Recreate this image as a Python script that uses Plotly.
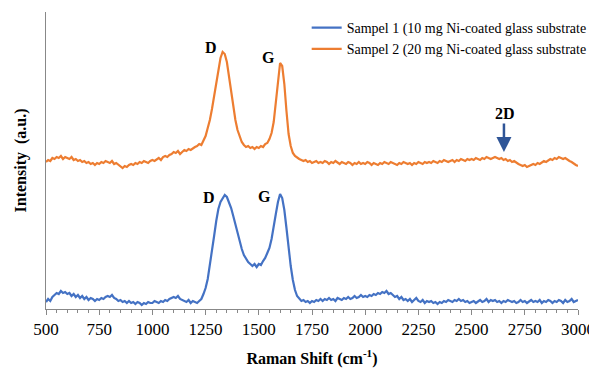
import plotly.graph_objects as go

raman_shift = list(range(500, 3001, 10))

sample1 = [
    4, 7, 5, 9, 11, 13, 12, 15, 13, 14,
    12, 13, 10, 12, 9, 11, 8, 10, 7, 9,
    6, 8, 7, 5, 7, 6, 8, 7, 9, 10,
    9, 11, 8, 7, 5, 6, 4, 5, 3, 5,
    3, 4, 2, 4, 3, 1, 3, 2, 4, 3,
    3, 5, 4, 3, 5, 4, 6, 5, 7, 8,
    9, 8, 10, 7, 6, 5, 4, 6, 3, 5,
    4, 3, 5, 7, 12, 18, 27, 40, 55, 70,
    85, 97, 104, 108, 111, 109, 104, 98, 90, 82,
    73, 64, 57, 51, 47, 44, 42, 40, 42, 39,
    42, 41, 45, 48, 53, 58, 67, 78, 92, 104,
    112, 108, 96, 78, 58, 40, 26, 16, 10, 7,
    5, 6, 4, 5, 3, 5, 4, 6, 5, 7,
    5, 7, 6, 8, 6, 7, 5, 8, 7, 6,
    8, 7, 9, 7, 8, 10, 8, 9, 11, 9,
    10, 9, 11, 10, 12, 11, 13, 12, 14, 13,
    15, 12, 13, 11, 9, 10, 7, 9, 6, 7,
    5, 7, 4, 6, 8, 5, 4, 6, 3, 5,
    4, 5, 3, 4, 2, 4, 3, 5, 4, 6,
    5, 4, 6, 5, 7, 5, 6, 4, 5, 3,
    4, 5, 3, 5, 6, 4, 5, 7, 4, 6,
    5, 6, 4, 5, 3, 5, 4, 6, 5, 4,
    5, 3, 4, 6, 4, 5, 3, 5, 6, 4,
    5, 4, 6, 3, 5, 4, 6, 5, 3, 5,
    4, 6, 5, 3, 6, 4, 5, 7, 4, 5,
    6,
]

sample2 = [
    144, 146, 145, 148, 147, 149, 148, 150, 147, 149,
    148, 147, 149, 146, 147, 145, 146, 144, 145, 143,
    144, 142, 143, 141, 143, 142, 144, 143, 145, 144,
    143, 145, 142, 143, 141, 139, 138, 140, 139, 141,
    142, 141, 143, 142, 144, 143, 145, 144, 143, 145,
    146, 145, 147, 148, 146, 149, 150, 149, 151, 152,
    154, 153, 155, 152, 154, 156, 155, 157, 156, 158,
    159, 160, 162, 161, 165, 170, 178, 186, 197, 210,
    224, 238, 248, 254, 252, 244, 230, 214, 199, 186,
    176, 169, 164, 161, 159, 160, 158, 159, 157, 159,
    158, 160, 159, 162, 163, 167, 173, 184, 204, 228,
    243, 240, 222, 195, 172, 160, 153, 150, 148, 147,
    146, 145, 146, 144, 145, 143, 144, 145, 143, 144,
    143, 145, 144, 142, 144, 143, 145, 143, 142, 144,
    143, 142, 144, 143, 141, 143, 142, 144, 142, 143,
    142, 144, 143, 141, 143, 142, 141, 143, 142, 144,
    143, 142, 144, 143, 142, 141, 143, 142, 144, 143,
    142, 143, 141, 143, 142, 144, 143, 142, 144, 143,
    144, 143, 145, 144, 143, 145, 144, 146, 145, 144,
    145, 146, 144, 146, 145, 147, 146, 145, 147, 146,
    147, 146, 148, 147, 146, 148, 147, 149, 148, 147,
    148, 149, 148, 147, 148, 146, 147, 145, 146, 144,
    145, 143, 142, 141, 140, 141, 139, 140, 141, 142,
    141, 143, 142, 144, 145, 144, 146, 147, 146, 148,
    147, 149, 148, 147, 148, 146, 145, 144, 142, 141,
    140,
]

# legend text as visible in the reference (cut at the picture's right edge)
series_names = [
    "Sampel 1 (10 mg Ni-coated glass substrate",
    "Sampel 2 (20 mg Ni-coated glass substrate",
]
x_ticks = [500, 750, 1000, 1250, 1500, 1750, 2000, 2250, 2500, 2750, 3000]

SERIF = "Liberation Serif, Times New Roman, serif"

fig = go.Figure()
fig.add_trace(go.Scatter(x=raman_shift, y=sample1, mode="lines", name=series_names[0],
                         line=dict(color="#4472C4", width=2.2)))
fig.add_trace(go.Scatter(x=raman_shift, y=sample2, mode="lines", name=series_names[1],
                         line=dict(color="#ED7D31", width=2.2)))

lab = dict(family=SERIF, size=16, color="black")
for txt, x, y in [("<b>D</b>", 1277, 259), ("<b>G</b>", 1546, 249),
                  ("<b>D</b>", 1268, 109), ("<b>G</b>", 1527, 110),
                  ("<b>2D</b>", 2655, 193)]:
    fig.add_annotation(x=x, y=y, text=txt, showarrow=False, font=lab)

fig.add_annotation(x=2652, y=154, ax=2652, ay=184, axref="x", ayref="y",
                   text="", showarrow=True, arrowhead=2, arrowsize=1.2,
                   arrowwidth=2.5, arrowcolor="#2F5597")

# the page body adds an 8 px margin, so the figure is 8 px smaller than the window
fig.update_layout(
    width=589, height=362,
    margin=dict(l=38, r=19, t=4, b=61, autoexpand=False),
    paper_bgcolor="white", plot_bgcolor="white",
    font=dict(family=SERIF, size=14, color="black"),
    showlegend=True,
    legend=dict(x=0.49, y=1.0, xanchor="left", yanchor="top",
                bgcolor="rgba(0,0,0,0)", font=dict(family=SERIF, size=14, color="black"),
                tracegroupgap=0, itemwidth=30),
    xaxis=dict(range=[500, 3000], tickvals=x_ticks, ticks="outside", ticklen=5,
               tickcolor="#888", showline=True, linecolor="#888", linewidth=1,
               showgrid=False, zeroline=False, automargin=False,
               minor=dict(dtick=50, ticks="outside", ticklen=3, tickcolor="#888", showgrid=False),
               tickfont=dict(family=SERIF, size=17, color="black"),
               title=dict(text="<b>Raman Shift (cm<sup>-1</sup>)</b>", standoff=14,
                          font=dict(family=SERIF, size=16, color="black"))),
    yaxis=dict(range=[-3, 294], showticklabels=False, ticks="", showline=True,
               linecolor="#888", linewidth=1, showgrid=False, zeroline=False,
               automargin=False,
               title=dict(text="<b>Intensity  (a.u.)</b>", standoff=14,
                          font=dict(family=SERIF, size=16, color="black"))),
)

fig.write_html("out.html")
